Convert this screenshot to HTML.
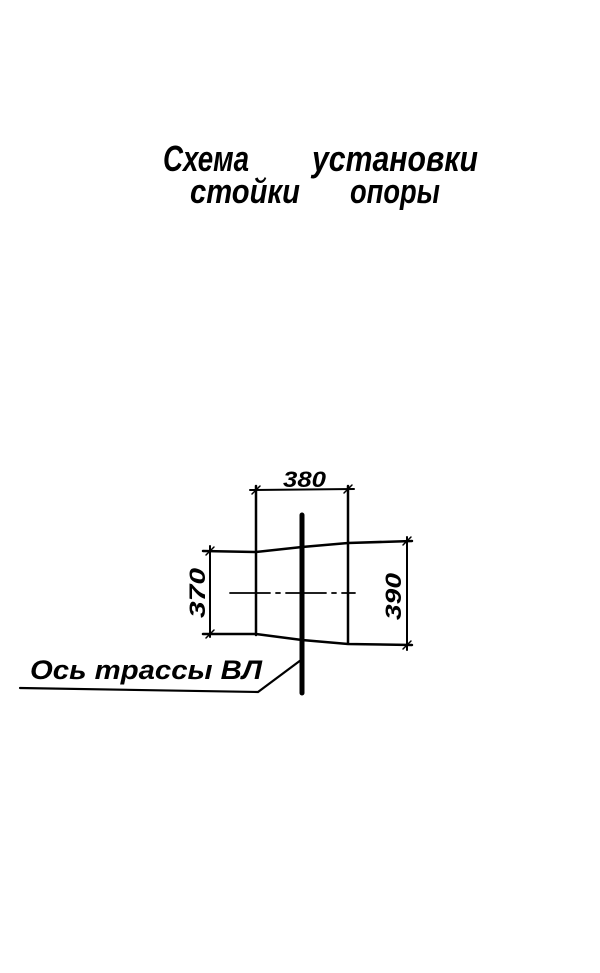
<!DOCTYPE html>
<html><head><meta charset="utf-8"><style>html,body{margin:0;padding:0;background:#fff}svg{display:block}</style></head>
<body>
<svg width="600" height="973" viewBox="0 0 600 973" xmlns="http://www.w3.org/2000/svg">
<g font-family="'Liberation Sans', sans-serif" font-style="italic" font-weight="bold" fill="#000">
<text x="163" y="171" font-size="36" textLength="86" lengthAdjust="spacingAndGlyphs">Схема</text>
<text x="312" y="171" font-size="36" textLength="166" lengthAdjust="spacingAndGlyphs">установки</text>
<text x="190" y="203" font-size="34" textLength="110" lengthAdjust="spacingAndGlyphs">стойки</text>
<text x="350" y="203" font-size="34" textLength="90" lengthAdjust="spacingAndGlyphs">опоры</text>
<text x="283" y="487" font-size="22" textLength="43" lengthAdjust="spacingAndGlyphs">380</text>
<text x="30" y="679" font-size="27" textLength="232" lengthAdjust="spacingAndGlyphs">Ось трассы ВЛ</text>
<text transform="translate(205,618) rotate(-90)" font-size="22" textLength="50" lengthAdjust="spacingAndGlyphs">370</text>
<text transform="translate(401,620) rotate(-90)" font-size="22" textLength="47" lengthAdjust="spacingAndGlyphs">390</text>
</g>
<g stroke="#000" fill="none" stroke-linecap="round">
<line x1="250" y1="490" x2="354" y2="489" stroke-width="2"/>
<line x1="256" y1="486" x2="256" y2="635" stroke-width="2.5"/>
<line x1="348" y1="486" x2="348" y2="643" stroke-width="2.5"/>
<line x1="302" y1="515" x2="302" y2="693" stroke-width="5"/>
<polyline points="203,551 256,552 302,547 348,543 412,541" stroke-width="2.5"/>
<polyline points="203,634 256,634 302,640 348,644 412,645" stroke-width="2.5"/>
<line x1="210" y1="546" x2="210" y2="637" stroke-width="2"/>
<line x1="407" y1="537" x2="407" y2="650" stroke-width="2"/>
<line x1="230" y1="593" x2="355" y2="593" stroke-width="1.8" stroke-dasharray="40,6,4,6"/>
<polyline points="301,660 258,692 20,688" stroke-width="2.2"/>
<g stroke-width="1.5">
<line x1="252" y1="494" x2="260" y2="486"/>
<line x1="344" y1="493" x2="352" y2="485"/>
<line x1="206" y1="555" x2="214" y2="547"/>
<line x1="206" y1="638" x2="214" y2="630"/>
<line x1="403" y1="545" x2="411" y2="537"/>
<line x1="403" y1="649" x2="411" y2="641"/>
</g>
</g>
</svg>
</body></html>
